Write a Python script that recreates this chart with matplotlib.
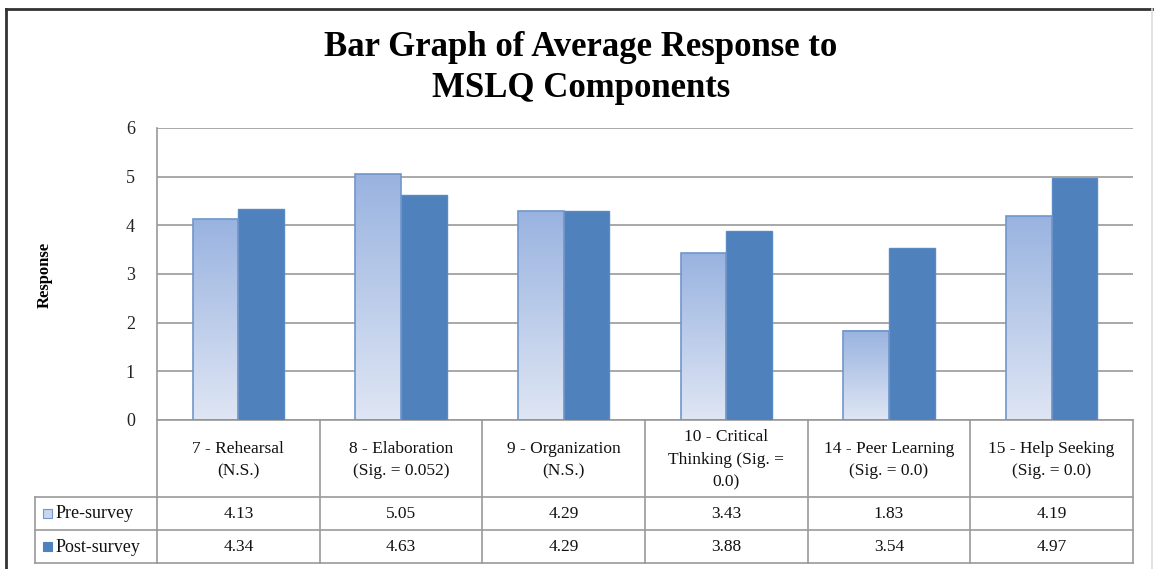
import numpy as np
import matplotlib
matplotlib.use("Agg")
import matplotlib.pyplot as plt
from matplotlib.lines import Line2D
from matplotlib.patches import Rectangle

categories = ["7 - Rehearsal\n(N.S.)", "8 - Elaboration\n(Sig. = 0.052)", "9 - Organization\n(N.S.)",
              "10 - Critical\nThinking (Sig. =\n0.0)", "14 - Peer Learning\n(Sig. = 0.0)",
              "15 - Help Seeking\n(Sig. = 0.0)"]
pre_survey = [4.13, 5.05, 4.29, 3.43, 1.83, 4.19]
post_survey = [4.34, 4.63, 4.29, 3.88, 3.54, 4.97]
pre_labels = ["4.13", "5.05", "4.29", "3.43", "1.83", "4.19"]
post_labels = ["4.34", "4.63", "4.29", "3.88", "3.54", "4.97"]
series_names = ["Pre-survey", "Post-survey"]
y_ticks = [0, 1, 2, 3, 4, 5, 6]

serif = "Liberation Serif"
grid_col = "#9a9a9a"
post_col = "#4f81bd"
pre_edge = "#7196cb"
txt_col = "#111111"
fs = 12.5

W, H = 1154, 569
fig = plt.figure(figsize=(W / 100, H / 100), dpi=100)
ax = fig.add_axes([157 / W, 1 - 420 / H, (1133 - 157) / W, (420 - 128) / H])

x = np.arange(len(categories))
bw = 0.28
pre_bars = ax.bar(x - bw / 2, pre_survey, bw, facecolor="none", edgecolor=pre_edge, linewidth=1.2, zorder=4)
ax.bar(x + bw / 2, post_survey, bw, color=post_col, edgecolor="#5a8ac4", linewidth=1.0, zorder=3)

# gradient fill for the pre-survey bars
grad = np.linspace(0, 1, 256).reshape(-1, 1)
cmap = matplotlib.colors.LinearSegmentedColormap.from_list("pre", ["#dfe6f4", "#99b3e0"])
for b in pre_bars:
    x0, w, h = b.get_x(), b.get_width(), b.get_height()
    ax.imshow(grad, extent=[x0, x0 + w, 0, h], origin="lower", cmap=cmap, aspect="auto", zorder=2)

ax.set_xlim(-0.5, len(categories) - 0.5)
ax.set_ylim(0, 6)
ax.set_yticks(y_ticks)
ax.set_yticklabels([str(t) for t in y_ticks], fontsize=13, fontfamily=serif, color="#222222")
ax.tick_params(axis="y", length=0, pad=16)
ax.set_xticks([])
ax.yaxis.grid(True, color=grid_col, linewidth=1.2)
ax.set_axisbelow(True)
for s in ["top", "right", "bottom"]:
    ax.spines[s].set_visible(False)
ax.spines["left"].set_color(grid_col)
ax.spines["left"].set_linewidth(1.2)

# data table under the axis
ax_h = 420 - 128
def yf(py):
    return (420 - py) / ax_h

tr = ax.get_xaxis_transform()
for py in [420, 497, 530, 563]:
    ax.add_line(Line2D([-0.5, 5.5], [yf(py), yf(py)], transform=tr, color=grid_col,
                       linewidth=1.2, clip_on=False))
for py in [497, 530, 563]:
    fig.add_artist(Line2D([35 / W, 157 / W], [1 - py / H] * 2, color=grid_col, linewidth=1.2))
fig.add_artist(Line2D([35 / W, 35 / W], [1 - 497 / H, 1 - 563 / H], color=grid_col, linewidth=1.2))
for i in range(len(categories) + 1):
    ax.add_line(Line2D([i - 0.5, i - 0.5], [yf(420), yf(563)], transform=tr, color=grid_col,
                       linewidth=1.2, clip_on=False))

for i, lab in enumerate(categories):
    ax.text(i, yf(460), lab, transform=tr, ha="center", va="center", fontsize=fs,
            fontfamily=serif, color=txt_col, linespacing=1.55)
    ax.text(i, yf(514), pre_labels[i], transform=tr, ha="center", va="center", fontsize=fs,
            fontfamily=serif, color=txt_col)
    ax.text(i, yf(547), post_labels[i], transform=tr, ha="center", va="center", fontsize=fs,
            fontfamily=serif, color=txt_col)

# legend keys inside the table
for row_y, name, fc, ec in [(514, series_names[0], "#c7d5ee", pre_edge), (547, series_names[1], post_col, post_col)]:
    fig.add_artist(Rectangle((43 / W, 1 - (row_y + 4) / H), 9 / W, 9 / H, facecolor=fc, edgecolor=ec,
                             linewidth=0.8))
    fig.text(56 / W, 1 - row_y / H, name, ha="left", va="center", fontsize=13, fontfamily=serif,
             color=txt_col)

fig.text(45 / W, 1 - 275 / H, "Response", rotation=90, ha="center", va="center", fontsize=12,
         fontweight="bold", fontfamily=serif)
fig.text(581 / W, 1 - 68 / H, "Bar Graph of Average Response to\nMSLQ Components", ha="center",
         va="center", fontsize=25, fontweight="bold", fontfamily=serif, linespacing=1.3)

# outer frame
fig.add_artist(Line2D([6 / W, 1152 / W], [1 - 9 / H] * 2, color="#333333", linewidth=2))
fig.add_artist(Line2D([6 / W, 6 / W], [1 - 9 / H, 0], color="#333333", linewidth=2))
fig.add_artist(Line2D([1152 / W, 1152 / W], [1 - 9 / H, 0], color="#dddddd", linewidth=1.2))

fig.savefig("out.png", dpi=100)
